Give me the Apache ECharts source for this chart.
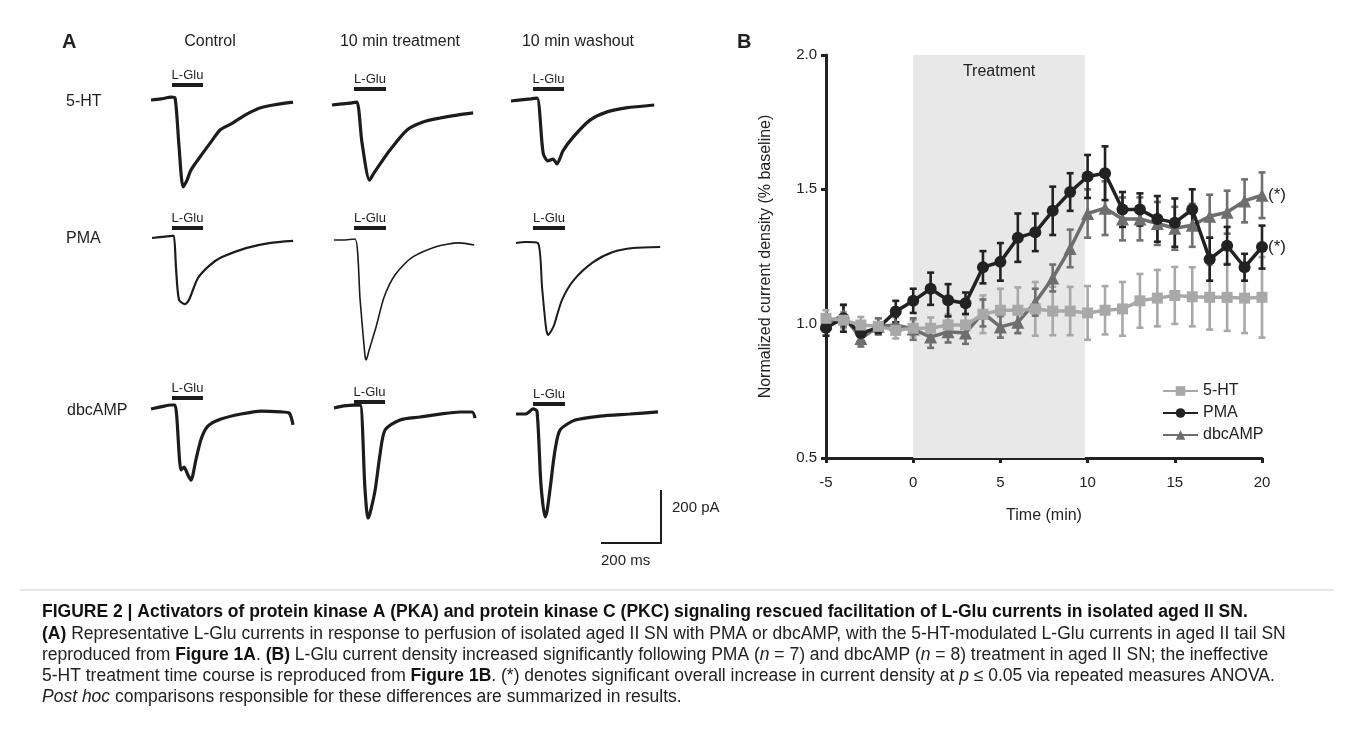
<!DOCTYPE html>
<html><head><meta charset="utf-8">
<script src="https://cdn.jsdelivr.net/npm/echarts@6/dist/echarts.min.js"></script>
<style>html,body{margin:0;padding:0;background:#fff}#c{width:1354px;height:729px}</style>
</head><body><div id="c"></div>
<script>
// ---------- Panel B data ----------
const times = [-5,-4,-3,-2,-1,0,1,2,3,4,5,6,7,8,9,10,11,12,13,14,15,16,17,18,19,20];
const ht5    = [1.02,1.013,0.995,0.99,0.975,0.983,0.983,0.995,0.995,1.035,1.05,1.05,1.055,1.047,1.047,1.04,1.05,1.055,1.085,1.095,1.105,1.10,1.098,1.098,1.095,1.098];
const ht5Err = [0.03,0.03,0.03,0.03,0.03,0.03,0.04,0.04,0.04,0.07,0.08,0.085,0.10,0.09,0.09,0.10,0.09,0.10,0.10,0.105,0.106,0.11,0.12,0.125,0.13,0.15];
const pma    = [0.985,1.02,0.965,0.985,1.045,1.085,1.13,1.087,1.076,1.21,1.23,1.32,1.34,1.42,1.49,1.548,1.56,1.425,1.425,1.39,1.376,1.425,1.24,1.29,1.21,1.285];
const pmaErr = [0.03,0.05,0.03,0.02,0.04,0.045,0.06,0.06,0.04,0.06,0.07,0.09,0.07,0.09,0.07,0.08,0.10,0.065,0.06,0.085,0.09,0.075,0.08,0.07,0.05,0.08];
const dbc    = [1.0,1.03,0.945,0.99,0.995,0.98,0.95,0.97,0.965,1.04,0.988,1.005,1.08,1.17,1.28,1.41,1.43,1.39,1.39,1.373,1.355,1.366,1.40,1.415,1.457,1.478];
const dbcErr = [0.03,0.04,0.03,0.03,0.03,0.04,0.04,0.04,0.04,0.05,0.04,0.04,0.05,0.05,0.07,0.09,0.10,0.08,0.08,0.08,0.08,0.08,0.08,0.08,0.08,0.085];
const treatmentWindow = [0, 9.85];
const seriesNames = ['5-HT','PMA','dbcAMP'];

// ---------- Panel A traces: [time ms, current pA] ----------
const tr5HTControl   = [[0,0],[33,4],[67,11],[80,8],[93,-170],[107,-328],[120,-302],[133,-264],[163,-215],[200,-158],[230,-113],[267,-90],[297,-68],[333,-45],[363,-30],[407,-19],[473,-8]];
const tr5HTTreat     = [[0,0],[33,4],[67,8],[83,11],[100,-143],[125,-283],[140,-256],[193,-170],[250,-94],[303,-64],[360,-49],[417,-38],[470,-30]];
const tr5HTWash      = [[0,0],[33,4],[67,8],[87,11],[107,-196],[123,-226],[140,-219],[153,-237],[173,-188],[207,-136],[263,-72],[320,-41],[383,-26],[477,-15]];
const trPMAControl   = [[0,0],[33,4],[67,8],[73,8],[80,-113],[90,-234],[110,-249],[123,-234],[153,-151],[193,-102],[233,-72],[313,-38],[390,-19],[470,-11]];
const trPMATreat     = [[0,0],[33,0],[70,4],[87,-226],[103,-434],[107,-452],[117,-415],[140,-328],[167,-215],[203,-132],[257,-68],[337,-26],[417,-11],[467,-19]];
const trPMAWash      = [[0,0],[33,4],[73,0],[87,-170],[100,-320],[107,-347],[117,-332],[127,-309],[153,-215],[193,-139],[257,-72],[323,-34],[390,-19],[480,-15]];
const trDbcControl   = [[0,0],[33,8],[67,15],[80,15],[100,-230],[110,-219],[123,-249],[133,-268],[150,-189],[167,-113],[190,-64],[233,-38],[300,-19],[367,-8],[433,-11],[460,-15],[473,-60]];
const trDbcTreat     = [[0,0],[33,8],[67,11],[87,11],[103,-302],[113,-415],[120,-396],[137,-309],[153,-177],[170,-83],[220,-45],[287,-34],[353,-23],[420,-15],[460,-15],[470,-38]];
const trDbcWash      = [[0,0],[33,0],[57,19],[70,11],[83,-264],[97,-388],[103,-369],[113,-287],[130,-136],[147,-60],[197,-23],[280,-8],[380,0],[473,8]];

// ---------- layout (positions only) ----------
const FONT = '"Liberation Sans", Arial, Helvetica, sans-serif';
const TXT = '#222';
const traceLayout = [
  {data: tr5HTControl, left:151, base:100, w:3.2},
  {data: tr5HTTreat,   left:332, base:105, w:3.2},
  {data: tr5HTWash,    left:511, base:101, w:3.2},
  {data: trPMAControl, left:152, base:238, w:2.2},
  {data: trPMATreat,   left:334, base:240, w:1.6},
  {data: trPMAWash,    left:516, base:243, w:2.0},
  {data: trDbcControl, left:151, base:409, w:3.2},
  {data: trDbcTreat,   left:334, base:408, w:3.2},
  {data: trDbcWash,    left:516, base:414, w:3.2}
];
const gluBars = [
  [172,203,85],[354,386,89],[533,564,89],
  [172,203,228],[354,386,228],[533,565,228],
  [172,203,398],[354,385,402],[533,565,404]
];

const grids = [{left:826, top:55, width:436, height:403}];
const xAxes = [{
  type:'value', gridIndex:0, min:-5, max:20, interval:5,
  name:'Time (min)', nameLocation:'middle', nameGap:50,
  nameTextStyle:{fontSize:16, color:TXT, fontFamily:FONT},
  axisLine:{onZero:false, lineStyle:{color:'#222', width:3}},
  axisTick:{length:5, lineStyle:{width:3, color:'#222'}},
  axisLabel:{fontSize:15, color:TXT, margin:17, fontFamily:FONT},
  splitLine:{show:false}
}];
const yAxes = [{
  type:'value', gridIndex:0, min:0.5, max:2.0, interval:0.5,
  name:'Normalized current density (% baseline)', nameLocation:'middle', nameGap:52,
  nameTextStyle:{fontSize:16, color:TXT, fontFamily:FONT},
  axisLine:{show:true, onZero:false, lineStyle:{color:'#222', width:3}},
  axisTick:{show:true, length:5, lineStyle:{width:3, color:'#222'}},
  axisLabel:{fontSize:15, color:TXT, margin:9, fontFamily:FONT, formatter:v=>v.toFixed(1)},
  splitLine:{show:false}
}];

const series = [];
// shaded treatment window
series.push({
  type:'line', name:'shade', xAxisIndex:0, yAxisIndex:0, z:1, silent:true,
  data: times.map((t,i)=>[t, ht5[i]]), showSymbol:false, lineStyle:{opacity:0},
  markArea:{silent:true, itemStyle:{color:'#e8e8e8'},
    label:{show:true, position:'insideTop', distance:9, fontSize:16, color:TXT, fontFamily:FONT},
    data:[[{name:'Treatment', xAxis:treatmentWindow[0], yAxis:2.0},{xAxis:treatmentWindow[1], yAxis:0.5}]]}
});

function errSeries(vals, errs, color, z){
  return {
    type:'custom', xAxisIndex:0, yAxisIndex:0, z:z, silent:true,
    data: times.map((t,i)=>[t, vals[i]-errs[i], vals[i]+errs[i]]),
    encode:{x:0, y:[1,2]},
    renderItem:function(params, api){
      const x = api.value(0);
      const pLo = api.coord([x, api.value(1)]);
      const pHi = api.coord([x, api.value(2)]);
      const w = 3.5;
      const st = {stroke:color, lineWidth:2.6};
      return {type:'group', children:[
        {type:'line', shape:{x1:pLo[0], y1:pLo[1], x2:pHi[0], y2:pHi[1]}, style:st},
        {type:'line', shape:{x1:pLo[0]-w, y1:pLo[1], x2:pLo[0]+w, y2:pLo[1]}, style:st},
        {type:'line', shape:{x1:pHi[0]-w, y1:pHi[1], x2:pHi[0]+w, y2:pHi[1]}, style:st}
      ]};
    }
  };
}
function lineSeries(name, vals, color, symbol, size, z, star){
  const s = {
    type:'line', name:name, xAxisIndex:0, yAxisIndex:0, z:z,
    data: times.map((t,i)=>[t, vals[i]]),
    symbol:symbol, symbolSize:size, showSymbol:true,
    itemStyle:{color:color, opacity:1},
    lineStyle:{color:color, width:3.5},
    emphasis:{disabled:true}
  };
  if (star) s.endLabel = {show:true, formatter:'(*)', fontSize:17, color:TXT, distance:6, fontFamily:FONT};
  return s;
}
series.push(errSeries(ht5, ht5Err, '#a8a8a8', 2));
series.push(errSeries(dbc, dbcErr, '#707070', 3));
series.push(errSeries(pma, pmaErr, '#222222', 4));
series.push(lineSeries('dbcAMP', dbc, '#6e6e6e', 'triangle', 13, 5, true));
series.push(lineSeries('PMA', pma, '#222222', 'circle', 12, 6, true));
series.push(lineSeries('5-HT', ht5, '#a8a8a8', 'rect', 11, 7, false));

// Panel A trace grids
const PA_PER_PX = 3.77, MS_PER_PX = 3.33;
traceLayout.forEach((L, k) => {
  const gi = k + 1;
  const yMax = 40, yMin = -488;
  grids.push({left:L.left, top:L.base - yMax/PA_PER_PX, width:145, height:(yMax - yMin)/PA_PER_PX});
  xAxes.push({type:'value', gridIndex:gi, min:0, max:145*MS_PER_PX, show:false});
  yAxes.push({type:'value', gridIndex:gi, min:yMin, max:yMax, show:false});
  series.push({type:'line', xAxisIndex:gi, yAxisIndex:gi, data:L.data, showSymbol:false, smooth:0.25,
    lineStyle:{color:'#1c1c1c', width:L.w}, silent:true});
});

// ---------- annotations ----------
const graphic = [];
function ctext(cx, cy, s, size, weight){
  graphic.push({type:'text', x:cx, y:cy, silent:true,
    style:{text:s, fontSize:size, fill:TXT, fontFamily:FONT, fontWeight:weight||'normal', align:'center', verticalAlign:'middle'}});
}
function ltext(x, cy, s, size, weight){
  graphic.push({type:'text', x:x, y:cy, silent:true,
    style:{text:s, fontSize:size, fill:TXT, fontFamily:FONT, fontWeight:weight||'normal', align:'left', verticalAlign:'middle'}});
}
ltext(62, 42, 'A', 20, 'bold');
ltext(737, 42, 'B', 20, 'bold');
ctext(210, 42, 'Control', 16);
ctext(400, 42, '10 min treatment', 16);
ctext(578, 42, '10 min washout', 16);
ltext(66, 102, '5-HT', 16);
ltext(66, 239, 'PMA', 16);
ltext(67, 411, 'dbcAMP', 16);
gluBars.forEach(b => {
  graphic.push({type:'rect', silent:true, shape:{x:b[0], y:b[2]-2, width:b[1]-b[0], height:4}, style:{fill:'#1c1c1c'}});
  ctext((b[0]+b[1])/2, b[2]-10, 'L-Glu', 13);
});
// scale bars
graphic.push({type:'line', silent:true, shape:{x1:661, y1:490, x2:661, y2:544}, style:{stroke:'#1c1c1c', lineWidth:2}});
graphic.push({type:'line', silent:true, shape:{x1:601, y1:543, x2:662, y2:543}, style:{stroke:'#1c1c1c', lineWidth:2}});
ltext(672, 508, '200 pA', 15);
ltext(601, 561, '200 ms', 15);
// caption
graphic.push({type:'line', silent:true, shape:{x1:20, y1:590, x2:1334, y2:590}, style:{stroke:'#cfcfcf', lineWidth:1}});
const CAP = 17.5;
const rich = {
  b:{fontWeight:'bold', fontSize:CAP, fill:'#111', fontFamily:FONT},
  r:{fontSize:CAP, fill:'#222', fontFamily:FONT},
  i:{fontStyle:'italic', fontSize:CAP, fill:'#222', fontFamily:FONT}
};
const capLines = [
  '{b|FIGURE 2 | Activators of protein kinase A (PKA) and protein kinase C (PKC) signaling rescued facilitation of L-Glu currents in isolated aged II SN.}',
  '{b|(A)}{r| Representative L-Glu currents in response to perfusion of isolated aged II SN with PMA or dbcAMP, with the 5-HT-modulated L-Glu currents in aged II tail SN}',
  '{r|reproduced from }{b|Figure 1A}{r|. }{b|(B)}{r| L-Glu current density increased significantly following PMA (}{i|n}{r| = 7) and dbcAMP (}{i|n}{r| = 8) treatment in aged II SN; the ineffective}',
  '{r|5-HT treatment time course is reproduced from }{b|Figure 1B}{r|. (*) denotes significant overall increase in current density at }{i|p}{r| ≤ 0.05 via repeated measures ANOVA.}',
  '{i|Post hoc}{r| comparisons responsible for these differences are summarized in results.}'
];
const capY = [612, 634, 655, 676, 697];
capLines.forEach((s, k) => {
  graphic.push({type:'text', x:42, y:capY[k], silent:true,
    style:{text:s, rich:rich, fontSize:CAP, fontFamily:FONT, fill:'#222', align:'left', verticalAlign:'middle'}});
});

const chart = echarts.init(document.getElementById('c'), null, {renderer:'canvas'});
chart.setOption({
  animation:false,
  backgroundColor:'#fff',
  textStyle:{fontFamily:FONT},
  grid:grids, xAxis:xAxes, yAxis:yAxes, series:series,
  legend:{data:seriesNames, orient:'vertical', left:1157, top:378, itemWidth:35, itemHeight:12, itemGap:6,
    textStyle:{fontSize:16, color:TXT, fontFamily:FONT}, selectedMode:false},
  graphic:graphic
});
</script></body></html>
